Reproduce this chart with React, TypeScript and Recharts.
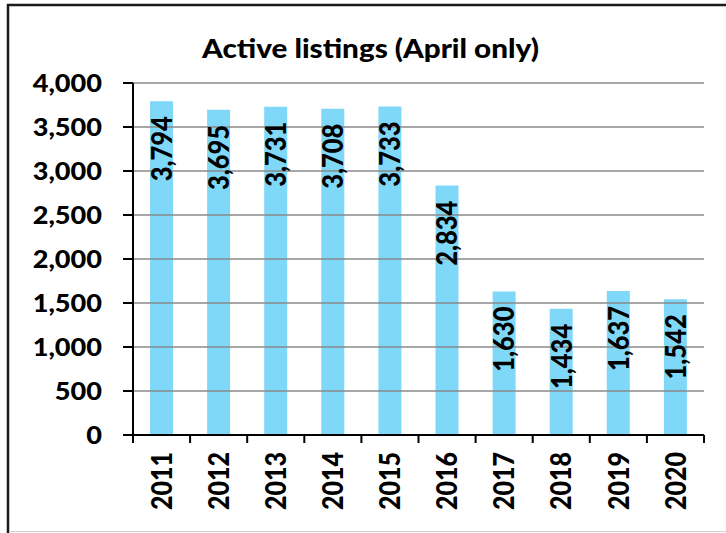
import React from 'react';
import { BarChart, Bar, XAxis, YAxis, ReferenceLine, LabelList } from 'recharts';

const categories = ['2011', '2012', '2013', '2014', '2015', '2016', '2017', '2018', '2019', '2020'];
const values = [3794, 3695, 3731, 3708, 3733, 2834, 1630, 1434, 1637, 1542];
const yTicks = [0, 500, 1000, 1500, 2000, 2500, 3000, 3500, 4000];
const title = 'Active listings (April only)';

const data = categories.map((year, i) => ({ year, value: values[i] }));

const FONT = 'Lato, "Open Sans", sans-serif';
const WEIGHT = 900;
const STRETCH = 1.13;
const fmt = (v: number) => v.toLocaleString('en-US');

const XTick = (props: any) => {
  const { x, y, payload, index } = props;
  const half = Number(payload && payload.offset) || 0;
  const ty = Number(y) + 17;
  const isLast = index === categories.length - 1;
  return (
    <g>
      <line x1={x - half} y1={y} x2={x - half} y2={Number(y) + 8} stroke="#000" strokeWidth={2} />
      {isLast && (
        <line x1={x + half} y1={y} x2={x + half} y2={Number(y) + 8} stroke="#000" strokeWidth={2} />
      )}
      <text
        transform={`translate(${x} ${ty}) scale(${STRETCH} 1) rotate(-90)`}
        textAnchor="end"
        dy="0.36em"
        fontFamily={FONT}
        fontWeight={WEIGHT}
        fontSize={25}
        fill="#000"
      >
        {payload.value}
      </text>
    </g>
  );
};

const YTick = (props: any) => {
  const { x, y, payload } = props;
  return (
    <text
      transform={`translate(${x} ${y}) scale(${STRETCH} 1)`}
      textAnchor="end"
      dy="0.36em"
      fontFamily={FONT}
      fontWeight={WEIGHT}
      fontSize={24}
      fill="#000"
    >
      {fmt(Number(payload.value))}
    </text>
  );
};

const BarLabel = (props: any) => {
  const { x, y, width, value } = props;
  const cx = Number(x) + Number(width) / 2;
  const ty = Number(y) + 15;
  return (
    <text
      transform={`translate(${cx} ${ty}) scale(${STRETCH} 1) rotate(-90)`}
      textAnchor="end"
      dy="0.36em"
      fontFamily={FONT}
      fontWeight={WEIGHT}
      fontSize={25.5}
      fill="#000"
    >
      {fmt(Number(value))}
    </text>
  );
};

export default function App() {
  return (
    <div style={{ position: 'absolute', left: 0, top: 0, width: 726, height: 533, background: '#fff' }}>
      <BarChart
        width={726}
        height={533}
        data={data}
        margin={{ top: 83, right: 22, bottom: 0, left: 0 }}
      >
        <XAxis
          dataKey="year"
          height={98}
          interval={0}
          axisLine={{ stroke: '#000', strokeWidth: 2 }}
          tickLine={false}
          tickSize={0}
          tickMargin={0}
          tick={<XTick />}
        />
        <YAxis
          width={133}
          domain={[0, 4000]}
          ticks={yTicks}
          interval={0}
          tickSize={10}
          tickMargin={21}
          tick={<YTick />}
          tickLine={{ stroke: '#000', strokeWidth: 2 }}
          axisLine={{ stroke: '#000', strokeWidth: 2 }}
        />
        <Bar dataKey="value" fill="#80D8F8" barSize={23} isAnimationActive={false}>
          <LabelList dataKey="value" content={<BarLabel />} />
        </Bar>
        {yTicks
          .filter((t) => t > 0)
          .map((t) => (
            <ReferenceLine key={t} y={t} stroke="#8a8a8a" strokeWidth={1.5} />
          ))}
      </BarChart>
      <svg
        width={726}
        height={533}
        style={{ position: 'absolute', left: 0, top: 0, pointerEvents: 'none' }}
      >
        <line x1={7} y1={5} x2={726} y2={5} stroke="#1a1a1a" strokeWidth={2.5} />
        <line x1={8} y1={4} x2={8} y2={533} stroke="#1a1a1a" strokeWidth={2.5} />
        <line x1={9} y1={531.5} x2={726} y2={531.5} stroke="#d0d0d0" strokeWidth={1} />
        <text
          transform={`translate(370.5 58) scale(1.14 1)`}
          textAnchor="middle"
          fontFamily={FONT}
          fontWeight={WEIGHT}
          fontSize={26}
          fill="#000"
        >
          {title}
        </text>
      </svg>
    </div>
  );
}
